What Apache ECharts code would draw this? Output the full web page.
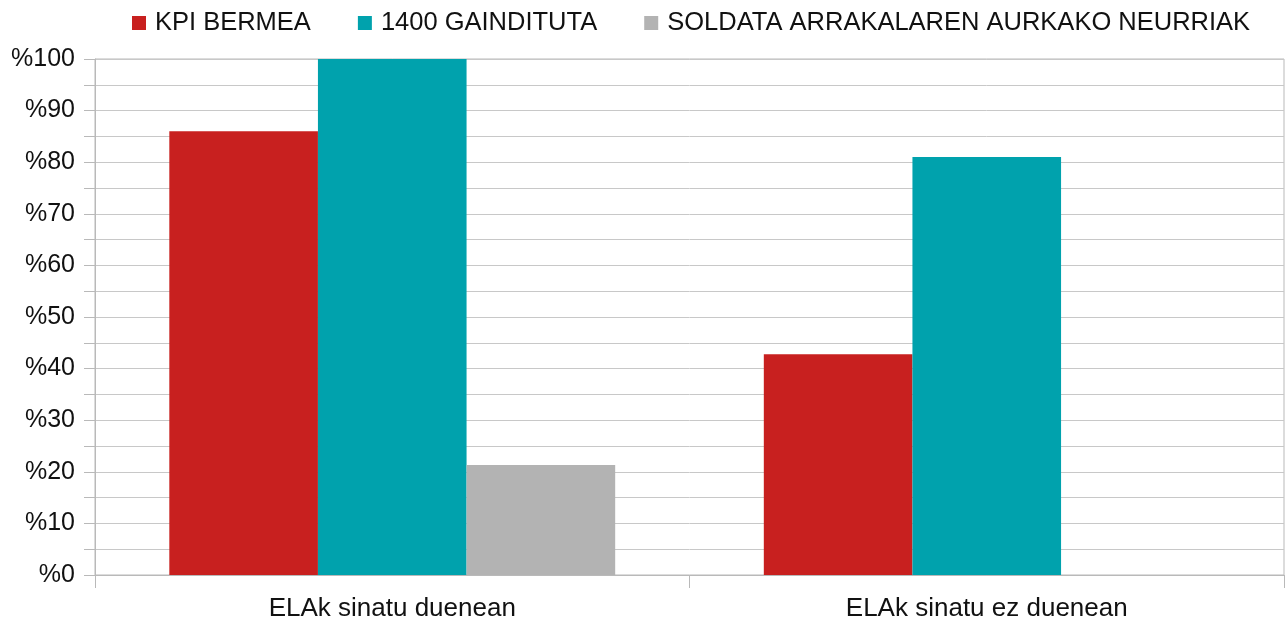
<!DOCTYPE html>
<html>
<head>
<meta charset="utf-8">
<script src="https://cdn.jsdelivr.net/npm/echarts@6/dist/echarts.min.js"></script>
<style>
  html, body { margin: 0; padding: 0; background: #fff; }
  #chart { width: 1287px; height: 622px; }
</style>
</head>
<body>
<div id="chart"></div>
<script>
const categories = ['ELAk sinatu duenean', 'ELAk sinatu ez duenean']
const seriesNames = ['KPI BERMEA', '1400 GAINDITUTA', 'SOLDATA ARRAKALAREN AURKAKO NEURRIAK']
const kpiValues = [86, 42.8]
const gainditutaValues = [100, 81]
const soldataValues = [21.3, 0]
const colors = ['#c8201f', '#00a2ad', '#b3b3b3']

const font = '"Liberation Sans", Arial, sans-serif'
const chart = echarts.init(document.getElementById('chart'))

chart.setOption({
  animation: false,
  textStyle: { fontFamily: font },
  legend: {
    top: 5,
    left: 127,
    itemWidth: 14,
    itemHeight: 14,
    itemGap: 47,
    icon: 'rect',
    textStyle: { fontSize: 25.5, color: '#111', padding: [0, 0, 0, 4] },
    data: seriesNames
  },
  grid: {
    left: 95, right: 3, top: 59, bottom: 47,
    show: true, borderColor: '#b9b9b9', borderWidth: 1
  },
  xAxis: {
    type: 'category',
    data: categories,
    axisLine: { lineStyle: { color: '#b9b9b9' } },
    axisTick: { show: true, length: 13, lineStyle: { color: '#b9b9b9' } },
    axisLabel: { fontSize: 26, color: '#111', margin: 21 },
    splitLine: { show: false }
  },
  yAxis: {
    type: 'value',
    min: 0, max: 100, interval: 5,
    axisLine: { show: true, lineStyle: { color: '#b9b9b9' } },
    axisTick: { show: true, length: 11, lineStyle: { color: '#b9b9b9' } },
    axisLabel: {
      fontSize: 25, color: '#111', margin: 20,
      formatter: v => (v % 10 === 0 ? '%' + v : '')
    },
    splitLine: { show: true, lineStyle: { color: '#c8c8c8', width: 1 } }
  },
  series: [
    { name: seriesNames[0], type: 'bar', data: kpiValues, barGap: 0, barCategoryGap: '25%', itemStyle: { color: colors[0] } },
    { name: seriesNames[1], type: 'bar', data: gainditutaValues, barGap: 0, barCategoryGap: '25%', itemStyle: { color: colors[1] } },
    { name: seriesNames[2], type: 'bar', data: soldataValues, barGap: 0, barCategoryGap: '25%', itemStyle: { color: colors[2] } }
  ]
})
</script>
</body>
</html>
